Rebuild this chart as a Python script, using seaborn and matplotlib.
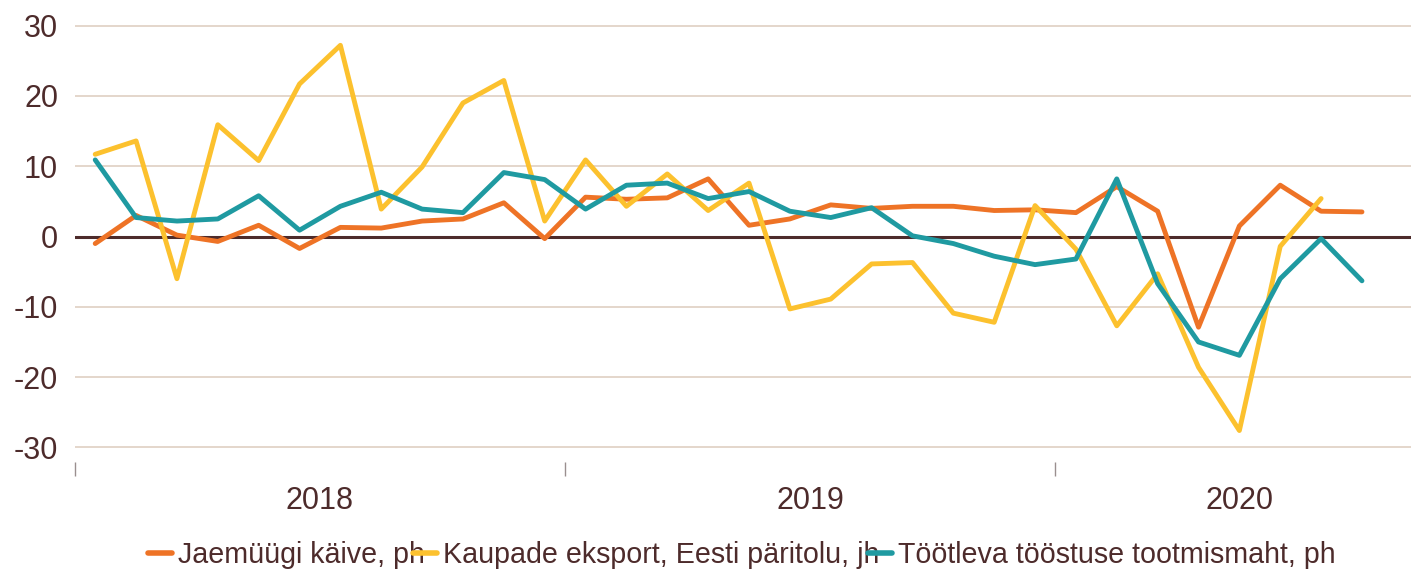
import pandas as pd
import matplotlib.pyplot as plt
import seaborn as sns

# Monthly series, Jan 2018 .. Aug 2020 (yoy %)
months = pd.period_range("2018-01", "2020-08", freq="M")

jaemuuk = [-1.0, 3.0, 0.2, -0.7, 1.6, -1.7, 1.3, 1.2, 2.2, 2.5, 4.8, -0.3,
           5.6, 5.3, 5.5, 8.2, 1.6, 2.5, 4.5, 4.0, 4.3, 4.3, 3.7, 3.8,
           3.4, 7.1, 3.6, -12.9, 1.5, 7.3, 3.6, 3.5]
eksport = [11.7, 13.6, -6.0, 15.9, 10.8, 21.7, 27.2, 3.9, 9.9, 19.0, 22.2, 2.2,
           10.9, 4.3, 8.9, 3.7, 7.6, -10.3, -8.9, -3.9, -3.7, -10.9, -12.2, 4.4,
           -1.8, -12.7, -5.3, -18.6, -27.6, -1.4, 5.4, None]
toostus = [10.9, 2.7, 2.2, 2.5, 5.8, 0.9, 4.3, 6.3, 3.9, 3.4, 9.1, 8.1,
           3.9, 7.3, 7.6, 5.4, 6.4, 3.6, 2.7, 4.1, 0.1, -1.0, -2.8, -4.0,
           -3.2, 8.2, -6.7, -15.0, -16.9, -6.0, -0.3, -6.3]

labels = ["Jaemüügi käive, ph", "Kaupade eksport, Eesti päritolu, jh",
          "Töötleva tööstuse tootmismaht, ph"]
colors = ["#ee7326", "#fcc12e", "#1f9aa1"]
years = ["2018", "2019", "2020"]

brown = "#4d2b2b"

df = pd.DataFrame({"x": [i + 0.5 for i in range(len(months))],
                   labels[0]: jaemuuk, labels[1]: eksport, labels[2]: toostus})
long_df = df.melt(id_vars="x", var_name="seeria", value_name="value").dropna()

sns.set_style("white")
plt.rcParams["font.family"] = ["Liberation Sans", "DejaVu Sans"]

fig = plt.figure(figsize=(14.11, 5.72), dpi=100)
ax = fig.add_axes([0.053, 0.192, 0.947, 0.789])

for v in [-30, -20, -10, 10, 20, 30]:
    ax.axhline(v, color="#dfcfc2", lw=1.2, zorder=0)
ax.axhline(0, color=brown, lw=2.2, zorder=1)

sns.lineplot(data=long_df, x="x", y="value", hue="seeria", hue_order=labels,
             palette=colors, lw=3.5, ax=ax, legend=False, zorder=3)

ax.set_xlim(0, 32.7)
ax.set_ylim(-32.1, 32.1)
ax.set_yticks([-30, -20, -10, 0, 10, 20, 30])
ax.set_yticklabels(["-30", "-20", "-10", "0", "10", "20", "30"])
ax.set_xticks([0, 12, 24])
ax.set_xticklabels([])
ax.set_xticks([6, 18, 28.5], minor=True)
ax.set_xticklabels(years, minor=True)
ax.tick_params(axis="x", which="major", length=10, width=1, color="#9a8f8f",
               direction="out", bottom=True)
ax.tick_params(axis="x", which="minor", length=0, pad=17, labelsize=22, labelcolor=brown)
ax.tick_params(axis="y", length=0, pad=12, labelsize=22, labelcolor=brown)
ax.set_xlabel("")
ax.set_ylabel("")
for s in ax.spines.values():
    s.set_visible(False)

handles = [plt.Line2D([], [], color=c, lw=4) for c in colors]
fig.legend(handles, labels, loc="center", bbox_to_anchor=(0.5257, 0.03),
           ncol=3, frameon=False, fontsize=20.6, handlelength=0.84,
           handletextpad=0.2, columnspacing=-0.4, labelcolor=brown)

fig.savefig("out.png", dpi=100)
